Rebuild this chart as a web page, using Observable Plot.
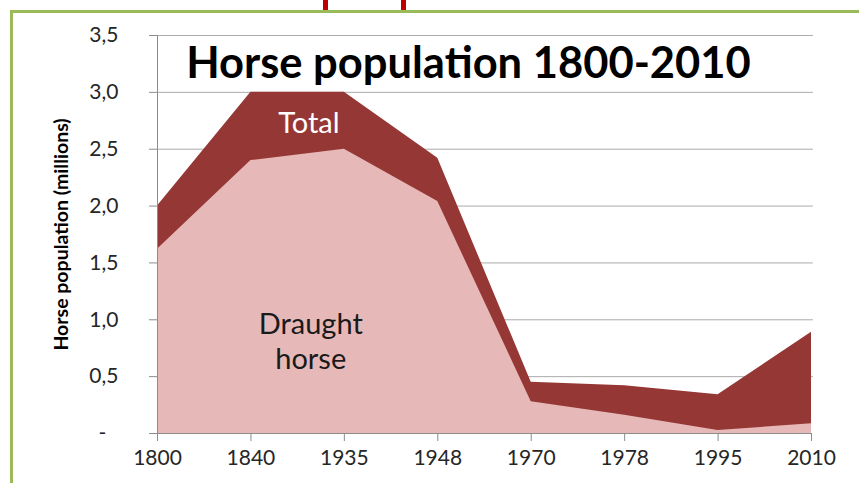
<!DOCTYPE html>
<html><head><meta charset="utf-8">
<script src="https://cdn.jsdelivr.net/npm/d3@7"></script>
<script src="https://cdn.jsdelivr.net/npm/@observablehq/plot@0.6"></script>
<style>
html,body{margin:0;padding:0;background:#fff;overflow:hidden;}
#wrap{position:relative;width:859px;height:483px;overflow:hidden;}
#wrap svg{position:absolute;left:0;top:0;}
.frame{position:absolute;left:10px;top:10px;width:1000px;height:1000px;border:3.5px solid #9bbb59;box-sizing:border-box;pointer-events:none;}
.mark{position:absolute;top:0;width:5px;height:10px;background:#c00000;}
</style></head><body>
<div id="wrap"></div>
<script>
const years = ["1800","1840","1935","1948","1970","1978","1995","2010"];
const total = [2.0, 3.0, 3.0, 2.42, 0.45, 0.42, 0.34, 0.89];
const draught = [1.62, 2.40, 2.50, 2.04, 0.28, 0.16, 0.026, 0.085];
const yTicks = [0, 0.5, 1, 1.5, 2, 2.5, 3, 3.5];
const title = "Horse population 1800-2010";
const yLabel = "Horse population (millions)";

const data = years.map((yr, i) => ({i, year: yr, total: total[i], draught: draught[i]}));
const font = "Lato, 'Open Sans', sans-serif";

const chart = Plot.plot({
  width: 859, height: 483,
  marginLeft: 157, marginRight: 48, marginTop: 35, marginBottom: 50,
  style: {fontFamily: font, background: "transparent"},
  x: {type: "linear", domain: [0, 7]},
  y: {domain: [0, 3.5]},
  marks: [
    Plot.ruleY(yTicks.slice(1), {x1: 0, x2: 7.02, stroke: "#ababab", strokeWidth: 1}),
    Plot.areaY(data, {x: "i", y: "total", fill: "#953735"}),
    Plot.areaY(data, {x: "i", y: "draught", fill: "#e6b9b8"}),
    Plot.ruleX([0], {y1: 0, y2: 3.5, stroke: "#8c8c8c"}),
    Plot.ruleY([0], {x1: 0, x2: 7, stroke: "#8c8c8c"}),
    Plot.axisY({ticks: yTicks, tickSize: 8, tickPadding: 31, stroke: "#8c8c8c", fill: "#262626",
      fontSize: 21, label: null,
      tickFormat: d => d === 0 ? "-\u2007" : d3.format(".1f")(d).replace(".", ",")}),
    Plot.axisX({ticks: d3.range(8), tickSize: 8, tickPadding: 9, stroke: "#8c8c8c", fill: "#262626",
      fontSize: 21, label: null, tickFormat: i => years[i]}),
    Plot.text([yLabel], {frameAnchor: "left", dx: -96, rotate: -90, fontWeight: "bold",
      fontSize: 19.5, fill: "#000", textAnchor: "middle"}),
    Plot.text([title], {frameAnchor: "top", dx: -16, dy: 29, fontWeight: "bold", fontSize: 43.5,
      fill: "#000", lineAnchor: "middle"}),
    Plot.text(["Total"], {x: 1.62, y: 2.72, fill: "#fff", fontSize: 29, lineAnchor: "middle"}),
    Plot.text(["Draught\nhorse"], {x: 1.64, y: 0.82, fill: "#1a1a1a", fontSize: 29,
      lineHeight: 1.2, lineAnchor: "middle"})
  ]
});
const wrap = document.getElementById("wrap");
wrap.appendChild(chart);
wrap.insertAdjacentHTML("beforeend",
  '<div class="frame"></div><div class="mark" style="left:323px"></div><div class="mark" style="left:401px"></div>');
</script>
</body></html>
